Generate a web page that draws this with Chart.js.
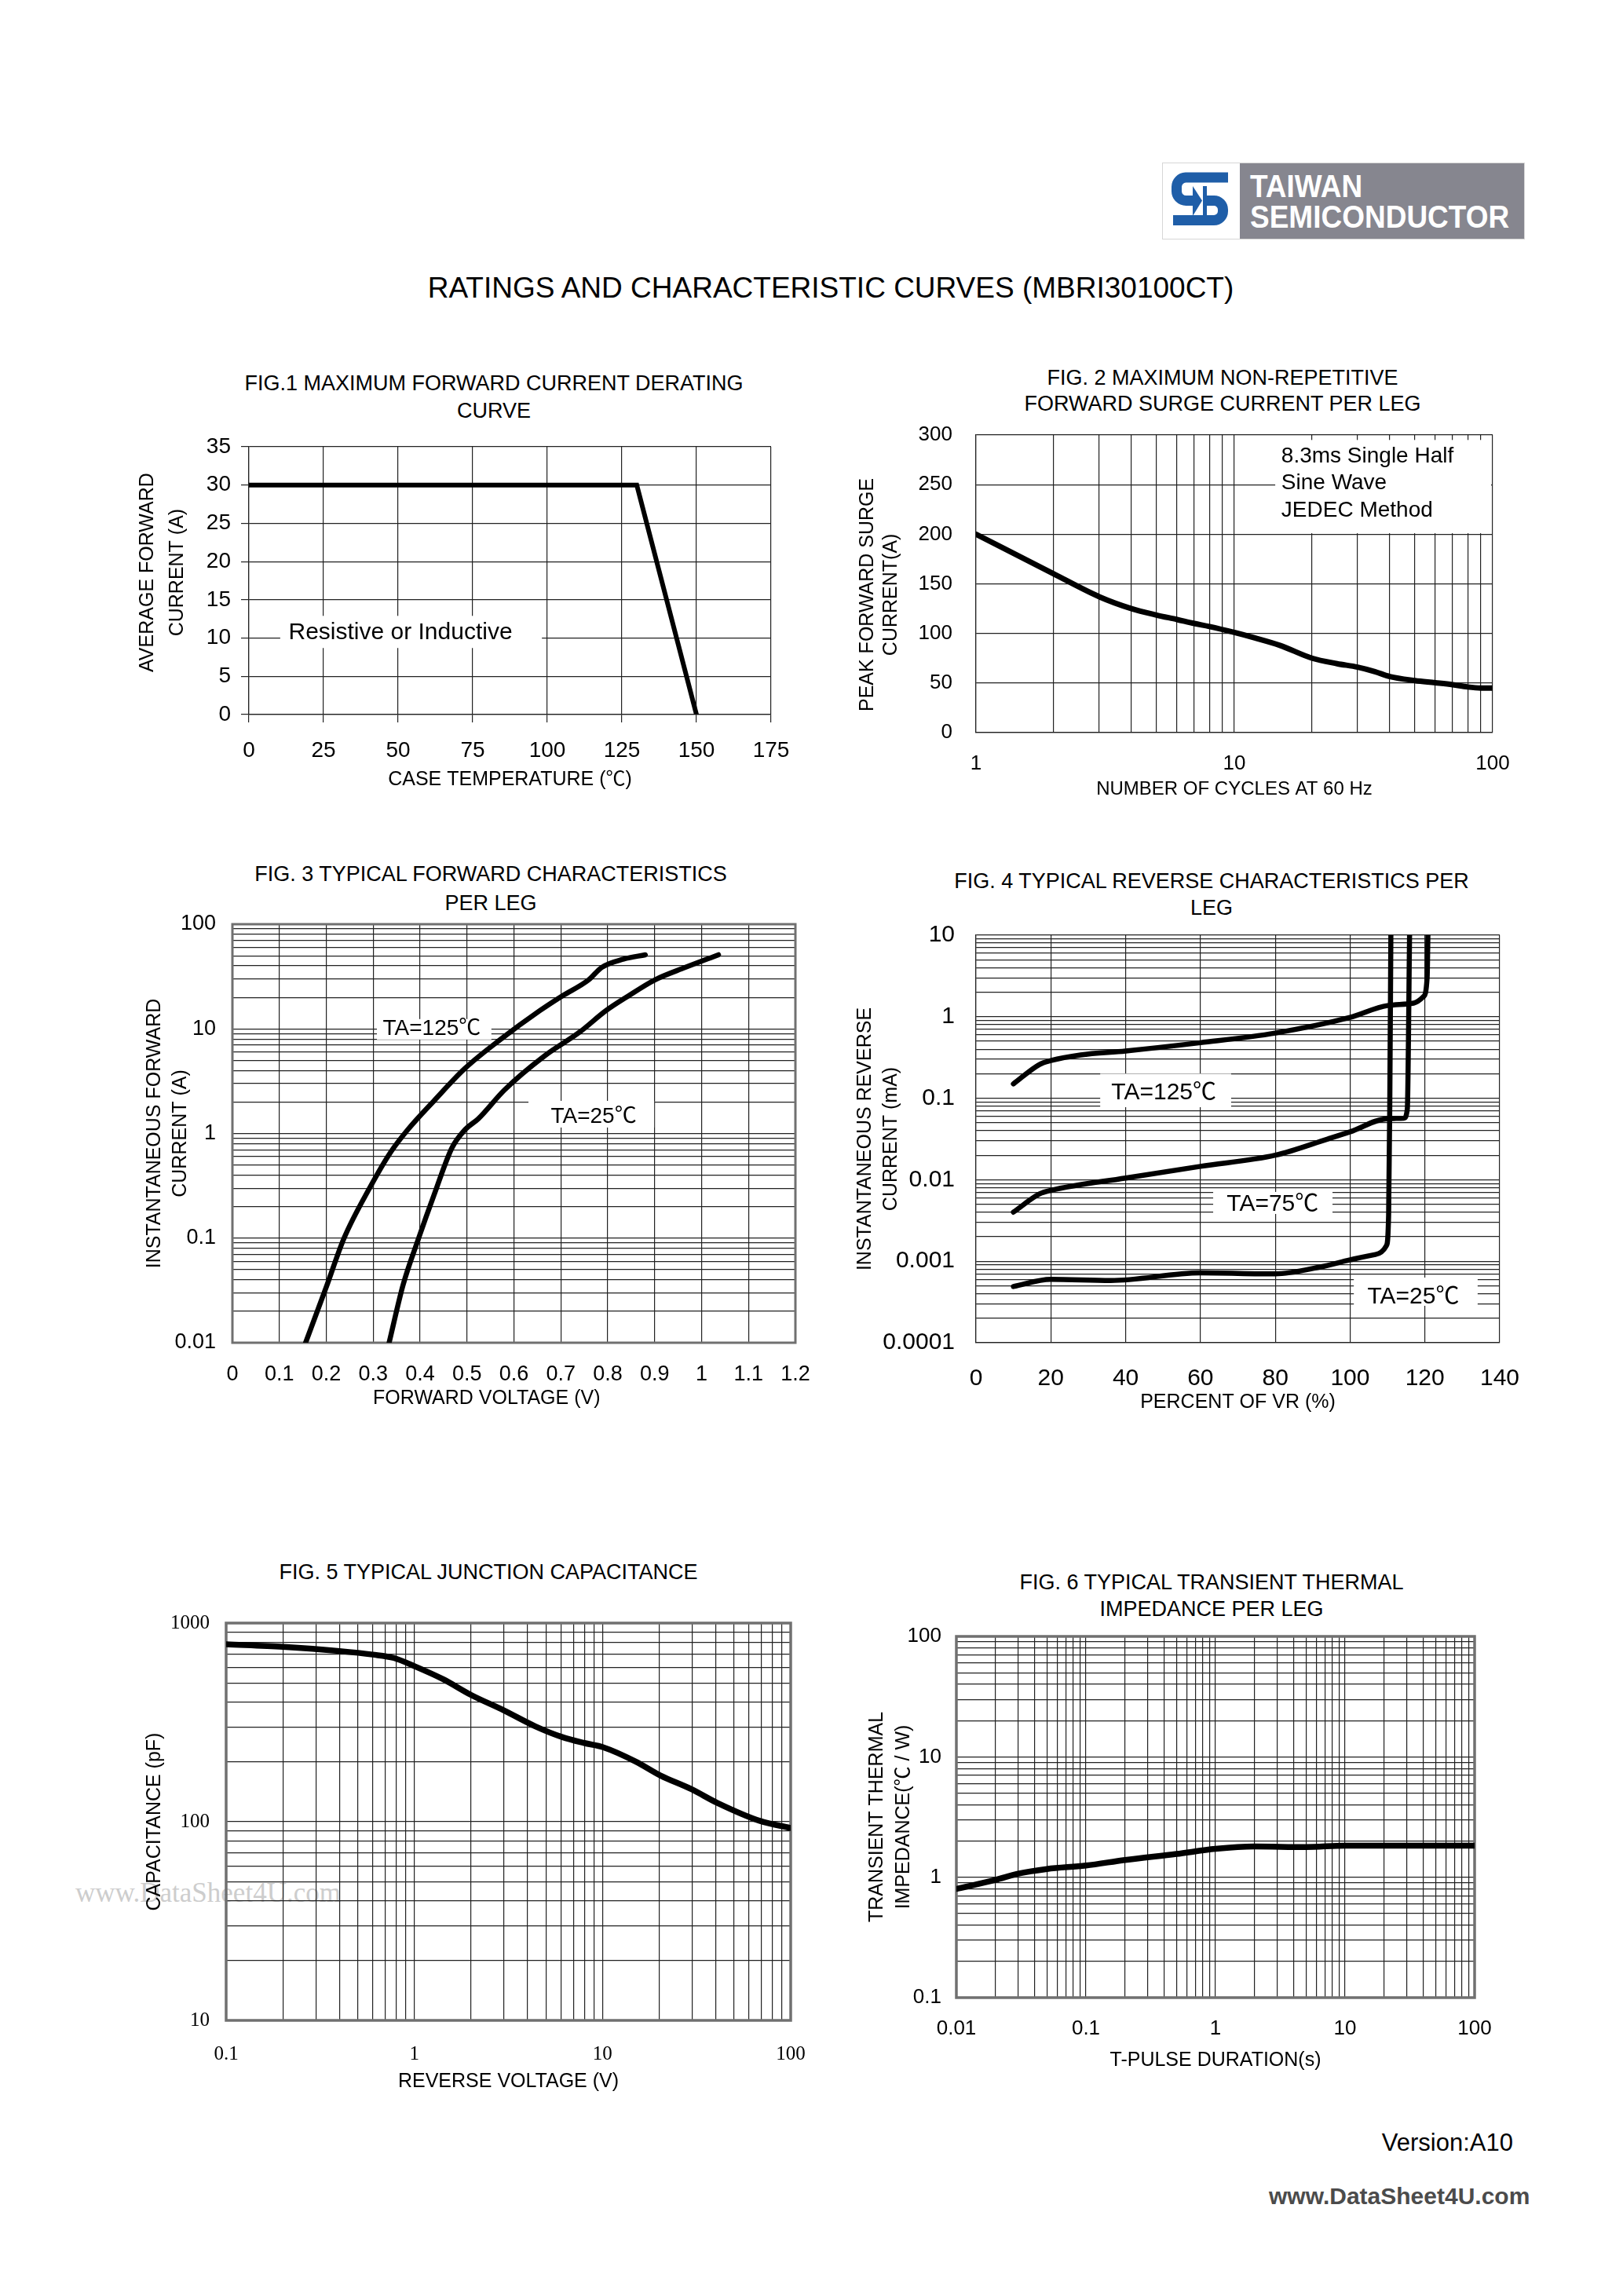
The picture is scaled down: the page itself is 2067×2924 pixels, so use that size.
<!DOCTYPE html>
<html>
<head>
<meta charset="utf-8">
<title>MBRI30100CT rating curves</title>
<script src="https://cdn.jsdelivr.net/npm/chart.js@4.4.1/dist/chart.umd.min.js"></script>
<style>
  html, body { margin: 0; padding: 0; background: #fff; }
  #page { position: relative; width: 2067px; height: 2924px; overflow: hidden;
          font-family: 'Liberation Sans', Arial, 'Noto Sans CJK SC', sans-serif; color: #000; }
  canvas { position: absolute; }
  .c { position: absolute; white-space: nowrap; text-align: center; transform: translate(-50%, -50%); }
  .l { position: absolute; white-space: nowrap; transform: translateY(-50%); }
  .logo-txt { position: absolute; left: 111px; white-space: nowrap; font-size: 37px; line-height: 37px;
              font-weight: bold; color: #fff; transform: translateY(-50%) scaleY(1.12); }
</style>
</head>
<body>
<div id="page">

  <div id="logo" style="position:absolute;left:1480px;top:207px;width:462px;height:98px;box-sizing:border-box;border:1px solid #d6d6d6;background:#fff">
    <svg style="position:absolute;left:3px;top:4px" width="88" height="80" viewBox="0 0 88 80">
      <g fill="none" stroke="#1f5ea8" stroke-width="13">
        <path d="M80,14 H26 A12,12 0 0 0 14.5,26 V31.5 A12,12 0 0 0 26.5,43.5 H36"/>
        <path d="M53,43.5 H62 A11.5,11.5 0 0 1 73.5,55 V57 A11.5,11.5 0 0 1 62,68.5 H10"/>
      </g>
      <polygon points="35,25 47,43.5 35,63" fill="#1f5ea8"/>
      <rect x="48" y="25" width="5" height="40" fill="#1f5ea8"/>
    </svg>
    <div style="position:absolute;left:98px;top:0;right:0;bottom:0;background:#86868f"></div>
    <div class="logo-txt" style="top:29px">TAIWAN</div>
    <div class="logo-txt" style="top:68px">SEMICONDUCTOR</div>
  </div>

  <div class="c" style="left:1058px;top:367px;font-size:37px;line-height:40px">RATINGS AND CHARACTERISTIC CURVES (MBRI30100CT)</div>

  <div class="c" style="left:629px;top:506px;font-size:27px;line-height:34.6px">FIG.1 MAXIMUM FORWARD CURRENT DERATING<br>CURVE</div>
  <div class="c" style="left:1557px;top:498px;font-size:27px;line-height:33.3px">FIG. 2 MAXIMUM NON-REPETITIVE<br>FORWARD SURGE CURRENT PER LEG</div>
  <div class="c" style="left:625px;top:1131px;font-size:27px;line-height:36.5px">FIG. 3 TYPICAL FORWARD CHARACTERISTICS<br>PER LEG</div>
  <div class="c" style="left:1543px;top:1139px;font-size:27px;line-height:34px">FIG. 4 TYPICAL REVERSE CHARACTERISTICS PER<br>LEG</div>
  <div class="c" style="left:622px;top:2002px;font-size:27px;line-height:32px">FIG. 5 TYPICAL JUNCTION CAPACITANCE</div>
  <div class="c" style="left:1543px;top:2033px;font-size:27px;line-height:33.7px">FIG. 6 TYPICAL TRANSIENT THERMAL<br>IMPEDANCE PER LEG</div>

  <div class="l" style="left:96px;top:2411px;font-family:'Liberation Serif','Times New Roman',serif;font-size:35px;color:#cdcdcd">www.DataSheet4U.com</div>

  <canvas id="fig1"></canvas>
  <canvas id="fig2"></canvas>
  <canvas id="fig3"></canvas>
  <canvas id="fig4"></canvas>
  <canvas id="fig5"></canvas>
  <canvas id="fig6"></canvas>

  <div class="l" style="right:140px;top:2729px;font-size:31px">Version:A10</div>
  <div class="l" style="left:1616px;top:2797px;font-size:30px;font-weight:bold;color:#4b4b4b">www.DataSheet4U.com</div>
</div>

<script>
const FONT = "'Liberation Sans', Arial, 'Noto Sans CJK SC', sans-serif";
const SERIF = "'Liberation Serif', 'Times New Roman', serif";
const GRID = '#222';

// Fig.1 forward current derating
const fig1Temp = [0, 130, 150];
const fig1Current = [30, 30, 0];
const fig1XTicks = ['0', '25', '50', '75', '100', '125', '150', '175'];
const fig1YTicks = ['0', '5', '10', '15', '20', '25', '30', '35'];

// Fig.2 non-repetitive surge current
const fig2Cycles = [1, 2, 3, 4, 5, 6, 7, 8, 10, 12, 15, 20, 25, 30, 35, 40, 50, 60, 70, 80, 90, 100];
const fig2Surge = [200, 160, 137, 125, 118.5, 114, 110, 107, 101, 95.5, 88, 75, 69.5, 66, 61.5, 56.5, 52.5, 50.3, 48.3, 46, 45, 45];
const fig2XTicks = ['1', '10', '100'];
const fig2YTicks = ['0', '50', '100', '150', '200', '250', '300'];

// Fig.3 forward characteristics
const fig3V125 = [0.156, 0.2, 0.238, 0.294, 0.336, 0.374, 0.43, 0.496, 0.571, 0.655, 0.702, 0.759, 0.787, 0.834, 0.88];
const fig3I125 = [0.01, 0.034, 0.1, 0.31, 0.65, 1.09, 2.06, 4.2, 7.9, 14.9, 20.5, 29.3, 38.6, 46.4, 51];
const fig3V25 = [0.334, 0.364, 0.397, 0.43, 0.468, 0.496, 0.524, 0.58, 0.665, 0.74, 0.796, 0.843, 0.9, 0.965, 1.036];
const fig3I25 = [0.01, 0.036, 0.1, 0.26, 0.73, 1.09, 1.38, 2.61, 5.5, 9.3, 14.9, 20.5, 29.3, 38.6, 51];
const fig3XTicks = ['0', '0.1', '0.2', '0.3', '0.4', '0.5', '0.6', '0.7', '0.8', '0.9', '1', '1.1', '1.2'];
const fig3YTicks = ['0.01', '0.1', '1', '10', '100'];

// Fig.4 reverse characteristics
const fig4X125 = [10, 17, 20, 28, 40, 60, 80, 100, 110, 117, 119.6, 120.6, 120.8];
const fig4I125 = [0.15, 0.26, 0.29, 0.34, 0.38, 0.48, 0.63, 0.98, 1.37, 1.47, 1.76, 3.06, 10];
const fig4X75 = [10, 17, 20, 40, 60, 80, 94, 100, 110, 114.4, 115.3, 115.9];
const fig4I75 = [0.004, 0.0067, 0.0074, 0.0105, 0.0146, 0.02, 0.0316, 0.0387, 0.056, 0.057, 0.074, 10];
const fig4X25 = [10, 20, 36, 60, 80, 92, 100, 106.8, 109.7, 110.3, 110.6, 110.9];
const fig4I25 = [0.00049, 0.0006, 0.00058, 0.00072, 0.0007, 0.00085, 0.00104, 0.00121, 0.00155, 0.0037, 0.074, 10];
const fig4XTicks = ['0', '20', '40', '60', '80', '100', '120', '140'];
const fig4YTicks = ['0.0001', '0.001', '0.01', '0.1', '1', '10'];

// Fig.5 junction capacitance
const fig5Volt = [0.1, 0.2, 0.4, 0.6, 0.78, 1.0, 1.42, 2.0, 3.0, 4.4, 6.1, 8.0, 10.1, 15, 20.3, 29.6, 41, 68.5, 100];
const fig5Cap = [783, 759, 723, 694, 667, 607, 522, 435, 363, 302, 267, 249, 237, 201, 171, 146, 124, 101, 93];
const fig5XTicks = ['0.1', '1', '10', '100'];
const fig5YTicks = ['10', '100', '1000'];

// Fig.6 transient thermal impedance
const fig6Time = [0.01, 0.02, 0.03, 0.05, 0.1, 0.2, 0.5, 1, 2, 5, 10, 100];
const fig6Imp = [0.8, 0.95, 1.07, 1.17, 1.25, 1.39, 1.56, 1.72, 1.8, 1.78, 1.83, 1.83];
const fig6XTicks = ['0.01', '0.1', '1', '10', '100'];
const fig6YTicks = ['0.1', '1', '10', '100'];

// page geometry of each plot (pixels)
const G1 = {area: {l: 317, t: 569, r: 982, b: 910}, yTitleX: 188, xTitleY: 993, yTickRight: 294, xTickY: 956, ticks: true};
const G2 = {area: {l: 1243, t: 554, r: 1901, b: 933}, yTitleX: 1105, xTitleY: 1005, yTickRight: 1213, xTickY: 973};
const G3 = {area: {l: 296, t: 1177, r: 1013, b: 1710}, yTitleX: 197, xTitleY: 1781, yTickRight: 275, xTickY: 1751, frame: {color: '#707070', width: 3}};
const G4 = {area: {l: 1243, t: 1191, r: 1910, b: 1710}, yTitleX: 1102, xTitleY: 1786, yTickRight: 1216, xTickY: 1756};
const G5 = {area: {l: 288, t: 2067, r: 1007, b: 2573}, yTitleX: 197, xTitleY: 2651, yTickRight: 267, xTickY: 2616, frame: {color: '#707070', width: 3.5}};
const G6 = {area: {l: 1218, t: 2084, r: 1878, b: 2544}, yTitleX: 1117, xTitleY: 2624, yTickRight: 1199, xTickY: 2584, frame: {color: '#707070', width: 3.5}};

const sp = n => '\u00a0'.repeat(n);

function points(xs, ys) {
  return xs.map((x, i) => ({x, y: ys[i]}));
}

function logTicks(min, max) {
  const out = [];
  for (let e = Math.round(Math.log10(min)); e < Math.round(Math.log10(max)); e++) {
    for (let m = 1; m < 10; m++) out.push({value: m * Math.pow(10, e)});
  }
  out.push({value: max});
  return out;
}

function decadeLabel(labels, min) {
  const k0 = Math.round(Math.log10(min));
  return v => {
    const k = Math.log10(v);
    return Math.abs(k - Math.round(k)) < 1e-6 ? labels[Math.round(k) - k0] : '';
  };
}

function axis(g, cl, cb, horizontal, o) {
  const tl = g.ticks ? 10 : 0;
  const titleSize = o.titleSize || 25;
  const lh = o.lineHeight || 1.2;
  const s = {
    type: o.type, min: o.min, max: o.max,
    grid: {color: GRID, lineWidth: 1.2, drawTicks: tl > 0, tickLength: tl, tickColor: GRID, tickWidth: 1.2},
    border: {display: !g.frame, color: GRID, width: 1.2},
    ticks: {
      autoSkip: false, maxRotation: 0, minRotation: 0, color: '#000',
      font: {family: o.serif ? SERIF : FONT, size: o.tickSize},
      padding: horizontal ? g.xTickY - g.area.b - tl - o.tickSize * 0.6 : g.area.l - tl - g.yTickRight,
      callback: o.type === 'logarithmic' ? decadeLabel(o.labels, o.min) : (v, i) => o.labels[i]
    },
    title: {
      display: true, text: o.title, color: '#000',
      font: {family: FONT, size: titleSize, lineHeight: lh},
      padding: horizontal
        ? {top: 0, bottom: cb - g.xTitleY - titleSize * lh / 2}
        : {top: g.yTitleX - cl - titleSize * lh / 2, bottom: 0}
    },
    afterFit: sc => {
      if (horizontal) sc.height = cb - g.area.b;
      else sc.width = g.area.l - cl;
      sc.paddingLeft = sc.paddingRight = sc.paddingTop = sc.paddingBottom = 0;
    }
  };
  if (o.type === 'linear') s.ticks.stepSize = o.step;
  else s.afterBuildTicks = sc => { sc.ticks = logTicks(o.min, o.max); };
  return s;
}

// gray plot frame and white-backed text labels
function overlay(g, notes) {
  return {
    id: 'overlay',
    beforeDatasetsDraw(chart) {
      const {ctx, chartArea: a, scales: {x, y}} = chart;
      ctx.save();
      if (g.frame) {
        ctx.strokeStyle = g.frame.color;
        ctx.lineWidth = g.frame.width;
        ctx.strokeRect(a.left, a.top, a.right - a.left, a.bottom - a.top);
      }
      notes.forEach(n => {
        const x0 = x.getPixelForValue(n.box[0]), x1 = x.getPixelForValue(n.box[1]);
        const y0 = y.getPixelForValue(n.box[2]), y1 = y.getPixelForValue(n.box[3]);
        ctx.fillStyle = '#fff';
        ctx.fillRect(x0, Math.min(y0, y1), x1 - x0, Math.abs(y1 - y0));
        ctx.fillStyle = '#000';
        ctx.font = n.size + 'px ' + FONT;
        ctx.textAlign = n.align || 'center';
        ctx.textBaseline = 'middle';
        const tx = x.getPixelForValue(n.x);
        let ty = y.getPixelForValue(n.y);
        [].concat(n.text).forEach(t => { ctx.fillText(t, tx, ty); ty += n.gap || 0; });
      });
      ctx.restore();
    }
  };
}

function makeChart(id, g, o) {
  const cl = g.yTitleX - 32, ct = g.area.t - 24, cr = g.area.r + 44, cb = g.xTitleY + 28;
  const cv = document.getElementById(id);
  cv.width = cr - cl;
  cv.height = cb - ct;
  Object.assign(cv.style, {left: cl + 'px', top: ct + 'px', width: (cr - cl) + 'px', height: (cb - ct) + 'px'});
  return new Chart(cv, {
    type: 'line',
    data: {
      datasets: o.series.map(data => ({
        data, borderColor: '#000', borderWidth: o.lineWidth, pointRadius: 0, fill: false,
        tension: 0, cubicInterpolationMode: o.straight ? 'default' : 'monotone',
        borderJoinStyle: o.straight ? 'miter' : 'round', borderCapStyle: 'round'
      }))
    },
    options: {
      responsive: false, animation: false, devicePixelRatio: 1, events: [],
      layout: {padding: {top: 24, right: 44, bottom: 0, left: 0}},
      plugins: {legend: {display: false}, tooltip: {enabled: false}, title: {display: false}},
      scales: {x: axis(g, cl, cb, true, o.x), y: axis(g, cl, cb, false, o.y)}
    },
    plugins: [overlay(g, o.notes || [])]
  });
}

makeChart('fig1', G1, {
  series: [points(fig1Temp, fig1Current)], lineWidth: 6, straight: true,
  x: {type: 'linear', min: 0, max: 175, step: 25, labels: fig1XTicks, tickSize: 28, title: 'CASE TEMPERATURE (\u2103)'},
  y: {type: 'linear', min: 0, max: 35, step: 5, labels: fig1YTicks, tickSize: 28, lineHeight: 1.54,
      title: [sp(3) + 'AVERAGE FORWARD', sp(3) + 'CURRENT (A)']},
  notes: [{text: 'Resistive or Inductive', x: 50.8, y: 10.7, size: 30, box: [10.5, 98.2, 8.7, 12.9]}]
});

makeChart('fig2', G2, {
  series: [points(fig2Cycles, fig2Surge)], lineWidth: 7,
  x: {type: 'logarithmic', min: 1, max: 100, labels: fig2XTicks, tickSize: 26, titleSize: 24, title: 'NUMBER OF CYCLES AT 60 Hz'},
  y: {type: 'linear', min: 0, max: 300, step: 50, labels: fig2YTicks, tickSize: 26, lineHeight: 1.22,
      title: ['PEAK FORWARD SURGE' + sp(4), 'CURRENT(A)' + sp(4)]},
  notes: [{text: ['8.3ms Single Half', 'Sine Wave', 'JEDEC Method'], align: 'left', x: 15.2, y: 278.6, gap: 34.5,
           size: 28, box: [14.4, 98.6, 201, 295]}]
});

makeChart('fig3', G3, {
  series: [points(fig3V125, fig3I125), points(fig3V25, fig3I25)], lineWidth: 6.5,
  x: {type: 'linear', min: 0, max: 1.2, step: 0.1, labels: fig3XTicks, tickSize: 27, title: 'FORWARD VOLTAGE (V)' + sp(10)},
  y: {type: 'logarithmic', min: 0.01, max: 100, labels: fig3YTicks, tickSize: 27, lineHeight: 1.34,
      title: ['INSTANTANEOUS FORWARD', 'CURRENT (A)']},
  notes: [
    {text: 'TA=125\u2103', x: 0.425, y: 10, size: 28, box: [0.308, 0.552, 7.9, 12.4]},
    {text: 'TA=25\u2103', x: 0.77, y: 1.44, size: 28, box: [0.631, 0.899, 1.14, 2.05]}
  ]
});

makeChart('fig4', G4, {
  series: [points(fig4X125, fig4I125), points(fig4X75, fig4I75), points(fig4X25, fig4I25)], lineWidth: 6.5,
  x: {type: 'linear', min: 0, max: 140, step: 20, labels: fig4XTicks, tickSize: 30, title: 'PERCENT OF VR (%)'},
  y: {type: 'logarithmic', min: 0.0001, max: 10, labels: fig4YTicks, tickSize: 30, lineHeight: 1.34,
      title: ['INSTANTANEOUS REVERSE', 'CURRENT (mA)']},
  notes: [
    {text: 'TA=125\u2103', x: 50.2, y: 0.117, size: 30, box: [33.2, 68.2, 0.0776, 0.2]},
    {text: 'TA=75\u2103', x: 79.3, y: 0.00496, size: 30, box: [63.4, 95.3, 0.0038, 0.00708]},
    {text: 'TA=25\u2103', x: 116.9, y: 0.000362, size: 30, box: [101, 134.1, 0.000284, 0.00063]}
  ]
});

makeChart('fig5', G5, {
  series: [points(fig5Volt, fig5Cap)], lineWidth: 7.5,
  x: {type: 'logarithmic', min: 0.1, max: 100, labels: fig5XTicks, tickSize: 25, serif: true, title: 'REVERSE VOLTAGE (V)'},
  y: {type: 'logarithmic', min: 10, max: 1000, labels: fig5YTicks, tickSize: 25, serif: true, title: 'CAPACITANCE (pF)'}
});

makeChart('fig6', G6, {
  series: [points(fig6Time, fig6Imp)], lineWidth: 7.5,
  x: {type: 'logarithmic', min: 0.01, max: 100, labels: fig6XTicks, tickSize: 26, title: 'T-PULSE DURATION(s)'},
  y: {type: 'logarithmic', min: 0.1, max: 100, labels: fig6YTicks, tickSize: 26, lineHeight: 1.38,
      title: ['TRANSIENT THERMAL', 'IMPEDANCE(\u2103 / W)']}
});
</script>
</body>
</html>
